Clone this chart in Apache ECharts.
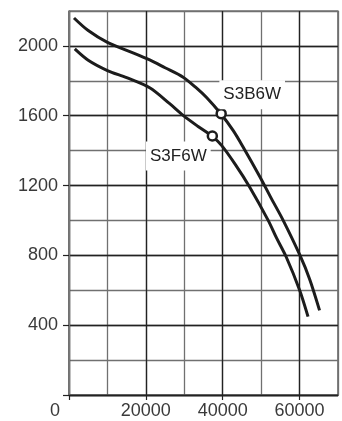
<!DOCTYPE html>
<html>
<head>
<meta charset="utf-8">
<script src="https://cdn.jsdelivr.net/npm/echarts@6/dist/echarts.min.js"></script>
<style>
  html, body { margin: 0; padding: 0; background: #fff; }
  #chart { width: 342px; height: 421px; }
</style>
</head>
<body>
<div id="chart"></div>
<script>
// fan curves
const s3b6wFlow = [1300, 5000, 10000, 15000, 21000, 25000, 29700, 33000, 35800, 39500, 42700, 45300, 49700, 52500, 55700, 60000, 62600, 65200];
const s3b6wPressure = [2160, 2088, 2020, 1975, 1920, 1875, 1821, 1762, 1704, 1611, 1516, 1421, 1249, 1132, 1002, 805, 665, 485];

const s3f6wFlow = [1500, 5000, 10000, 15000, 21000, 26200, 29700, 33500, 37300, 39700, 43300, 47000, 51800, 54000, 56500, 60000, 62200];
const s3f6wPressure = [1983, 1918, 1859, 1818, 1760, 1669, 1602, 1540, 1482, 1430, 1320, 1192, 1002, 900, 792, 602, 449];

const s3b6wMarker = [39600, 1612];
const s3f6wMarker = [37300, 1484];

const xTickValues = [0, 20000, 40000, 60000];
const xLabelValues = [20000, 40000, 60000];
const yTickValues = [0, 400, 800, 1200, 1600, 2000];
const yLabelValues = [400, 800, 1200, 1600, 2000];

const zip = (a, b) => a.map((v, i) => [v, b[i]]);

const font = 'Liberation Sans, Arial, sans-serif';
const curveColor = '#1c1c1c';
const majorGrid = '#222';
const minorGrid = '#707070';

// hidden axis that only draws the fine grid
function minorAxis(max, interval) {
  return {
    type: 'value',
    min: 0,
    max: max,
    interval: interval,
    z: 0,
    axisLine: { show: false },
    axisTick: { show: false },
    axisLabel: { show: false },
    splitLine: { show: true, lineStyle: { color: minorGrid, width: 1.3 } }
  };
}

let myChart = echarts.init(document.getElementById('chart'));

let option = {
  animation: false,
  grid: {
    left: 69,
    right: 4,
    top: 11,
    bottom: 26,
    show: true,
    borderColor: '#333',
    borderWidth: 1.2
  },
  xAxis: [
    {
      type: 'value',
      min: 0,
      max: 70000,
      interval: 20000,
      z: 2,
      axisLine: { lineStyle: { color: '#222', width: 1.3 } },
      axisTick: { customValues: xTickValues, length: 5, lineStyle: { color: '#222', width: 1.2 } },
      axisLabel: {
        customValues: xLabelValues,
        formatter: v => String(v),
        margin: 7,
        fontSize: 18,
        fontFamily: font,
        color: '#3a3a3a'
      },
      splitLine: { show: true, lineStyle: { color: majorGrid, width: 1.3 } }
    },
    minorAxis(70000, 10000)
  ],
  yAxis: [
    {
      type: 'value',
      min: 0,
      max: 2200,
      interval: 400,
      z: 2,
      axisLine: { show: true, lineStyle: { color: '#777', width: 1.3 } },
      axisTick: { show: true, customValues: yTickValues, length: 6, lineStyle: { color: '#222', width: 1.2 } },
      axisLabel: {
        customValues: yLabelValues,
        formatter: v => String(v),
        margin: 11,
        fontSize: 18,
        fontFamily: font,
        color: '#3a3a3a'
      },
      splitLine: { show: true, lineStyle: { color: majorGrid, width: 1.3 } }
    },
    minorAxis(2200, 200)
  ],
  graphic: [
    {
      type: 'text',
      x: 55,
      y: 411,
      style: {
        text: '0',
        fontSize: 18,
        fontFamily: font,
        fill: '#3a3a3a',
        align: 'center',
        verticalAlign: 'middle'
      }
    }
  ],
  series: [
    {
      name: 'S3B6W',
      type: 'line',
      smooth: 0.3,
      showSymbol: false,
      data: zip(s3b6wFlow, s3b6wPressure),
      lineStyle: { color: curveColor, width: 3 },
      z: 3
    },
    {
      name: 'S3F6W',
      type: 'line',
      smooth: 0.3,
      showSymbol: false,
      data: zip(s3f6wFlow, s3f6wPressure),
      lineStyle: { color: curveColor, width: 3 },
      z: 3
    },
    {
      type: 'scatter',
      symbol: 'circle',
      symbolSize: 9,
      itemStyle: { color: '#fff', borderColor: curveColor, borderWidth: 2.5, opacity: 1 },
      emphasis: { disabled: true },
      data: [
        {
          value: s3b6wMarker,
          name: 'S3B6W',
          label: { offset: [31, -19] }
        },
        {
          value: s3f6wMarker,
          name: 'S3F6W',
          label: { offset: [-34, 20] }
        }
      ],
      label: {
        show: true,
        position: 'inside',
        formatter: '{b}',
        fontSize: 17,
        fontFamily: font,
        color: '#222',
        backgroundColor: '#fff',
        padding: [6, 4]
      },
      z: 5
    }
  ]
};

myChart.setOption(option);
</script>
</body>
</html>
